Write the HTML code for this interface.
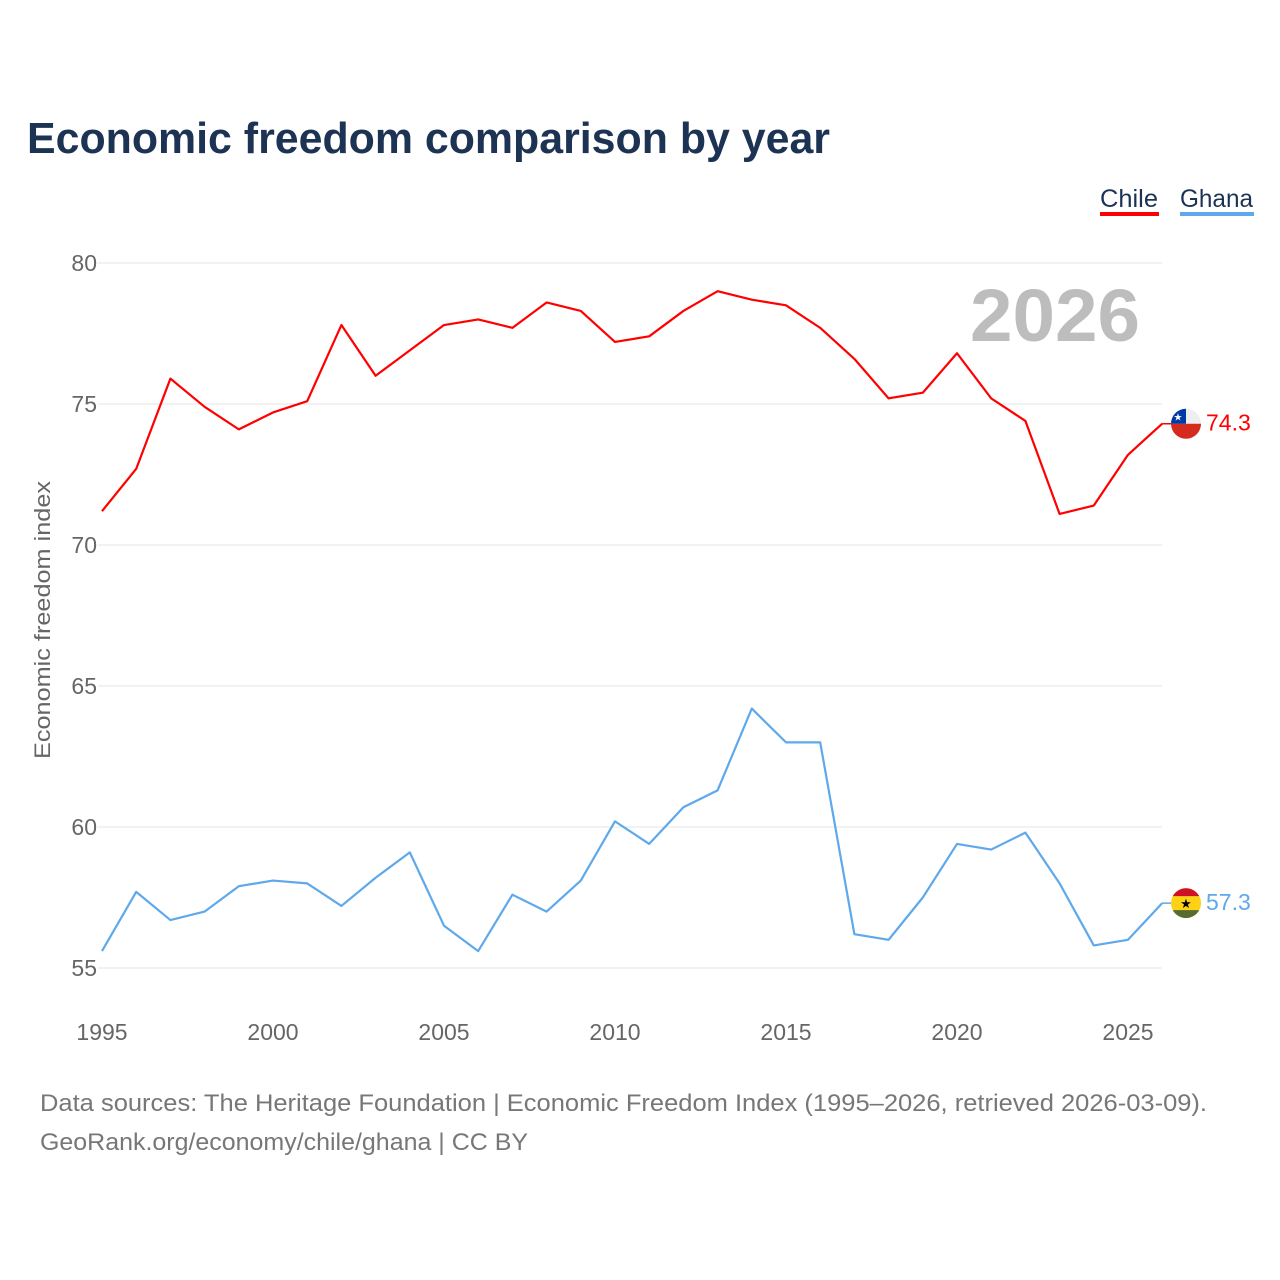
<!DOCTYPE html>
<html><head><meta charset="utf-8">
<style>
body{margin:0;background:#fff;font-family:"Liberation Sans",sans-serif;}
#wrap{position:relative;width:1280px;height:1280px;overflow:hidden;}
</style></head>
<body>
<div id="wrap">
<svg id="chart" width="1280" height="1280" style="font-family:'Liberation Sans',sans-serif">
<text x="27" y="153" font-size="44" font-weight="bold" fill="#1d3354" textLength="803" lengthAdjust="spacingAndGlyphs">Economic freedom comparison by year</text>
<g><text x="1100" y="207" font-size="25" fill="#1d3354" textLength="58" lengthAdjust="spacingAndGlyphs">Chile</text><rect x="1100" y="212" width="59" height="4" fill="#ff0000"/></g>
<g><text x="1180" y="207" font-size="25" fill="#1d3354" textLength="73" lengthAdjust="spacingAndGlyphs">Ghana</text><rect x="1180" y="212" width="74" height="4" fill="#5ea8ec"/></g>
<text x="1140" y="341" font-size="74" font-weight="bold" fill="#bdbdbd" text-anchor="end" textLength="170" lengthAdjust="spacingAndGlyphs">2026</text>
<g id="grid"></g><g id="lines"></g>
<text transform="translate(50,620) rotate(-90)" text-anchor="middle" font-size="22" fill="#666" textLength="278" lengthAdjust="spacingAndGlyphs">Economic freedom index</text>
<text x="40" y="1111" font-size="24" fill="#777" textLength="1167" lengthAdjust="spacingAndGlyphs">Data sources: The Heritage Foundation | Economic Freedom Index (1995–2026, retrieved 2026-03-09).</text>
<text x="40" y="1150" font-size="24" fill="#777" textLength="488" lengthAdjust="spacingAndGlyphs">GeoRank.org/economy/chile/ghana | CC BY</text>
</svg>
</div>
<script>
const years=[1995,1996,1997,1998,1999,2000,2001,2002,2003,2004,2005,2006,2007,2008,2009,2010,2011,2012,2013,2014,2015,2016,2017,2018,2019,2020,2021,2022,2023,2024,2025,2026];
const chile=[71.2,72.7,75.9,74.9,74.1,74.7,75.1,77.8,76.0,76.9,77.8,78.0,77.7,78.6,78.3,77.2,77.4,78.3,79.0,78.7,78.5,77.7,76.6,75.2,75.4,76.8,75.2,74.4,71.1,71.4,73.2,74.3];
const ghana=[55.6,57.7,56.7,57.0,57.9,58.1,58.0,57.2,58.2,59.1,56.5,55.6,57.6,57.0,58.1,60.2,59.4,60.7,61.3,64.2,63.0,63.0,56.2,56.0,57.5,59.4,59.2,59.8,58.0,55.8,56.0,57.3];
const yTicks=[55,60,65,70,75,80];
const xTicks=[1995,2000,2005,2010,2015,2020,2025];
const NS="http://www.w3.org/2000/svg";
const xs=y=>102+(y-1995)*(1128-102)/30;
const ys=v=>968-(v-55)*(968-263)/25;
function mk(t,a,p){const e=document.createElementNS(NS,t);for(const k in a)e.setAttribute(k,a[k]);p.appendChild(e);return e;}
const grid=document.getElementById('grid'),lines=document.getElementById('lines');
yTicks.forEach(v=>{
 const l=mk('line',{x1:98,x2:1162,y1:ys(v),y2:ys(v),stroke:'#e6e6e6','stroke-width':1},grid);
 
 
 const t=mk('text',{x:97,y:ys(v)+8,'text-anchor':'end','font-size':23,fill:'#666'},grid);t.textContent=v;
 
 
});
xTicks.forEach(y=>{
 const t=mk('text',{x:xs(y),y:1040,'text-anchor':'middle','font-size':23,fill:'#666'},grid);t.textContent=y;
 
 
});
function series(vals,color,name,flag){
 const p=mk('polyline',{points:vals.map((v,i)=>xs(years[i])+','+ys(v)).join(' '),fill:'none',stroke:color,'stroke-width':2.2,'stroke-linejoin':'round'},lines);
 
 
 const lv=vals[vals.length-1],cx=1186,cy=ys(lv);
 const g=mk('g',{},lines);
 
 
 mk('line',{x1:xs(years[years.length-1]),x2:cx,y1:cy,y2:cy,stroke:color,'stroke-width':1.5},g);
 flag(g,cx,cy);
 const t=mk('text',{x:1206,y:cy+7,'font-size':23,fill:color},lines);t.textContent=lv.toFixed(1);
 
 
}
series(chile,'#ff0000','chile',(g,cx,cy)=>{
 mk('circle',{cx,cy,r:15,fill:'#eee'},g);
 mk('path',{d:`M${cx-15},${cy} A15,15 0 0 0 ${cx+15},${cy} Z`,fill:'#d52b1e'},g);
 mk('path',{d:`M${cx-15},${cy} A15,15 0 0 1 ${cx},${cy-15} L${cx},${cy} Z`,fill:'#0039a6'},g);
 const s=mk('text',{x:cx-8,y:cy-3,'text-anchor':'middle','font-size':10,fill:'#fff'},g);s.textContent='★';
});
series(ghana,'#5ea8ec','ghana',(g,cx,cy)=>{
 mk('circle',{cx,cy,r:15,fill:'#fcd116'},g);
 mk('path',{d:`M${cx-13.2},${cy-7} A15,15 0 0 1 ${cx+13.2},${cy-7} Z`,fill:'#ce1126'},g);
 mk('path',{d:`M${cx-13.2},${cy+7} A15,15 0 0 0 ${cx+13.2},${cy+7} Z`,fill:'#556b2f'},g);
 const s=mk('text',{x:cx,y:cy+5,'text-anchor':'middle','font-size':13,fill:'#000'},g);s.textContent='★';
});
</script>
</body></html>
